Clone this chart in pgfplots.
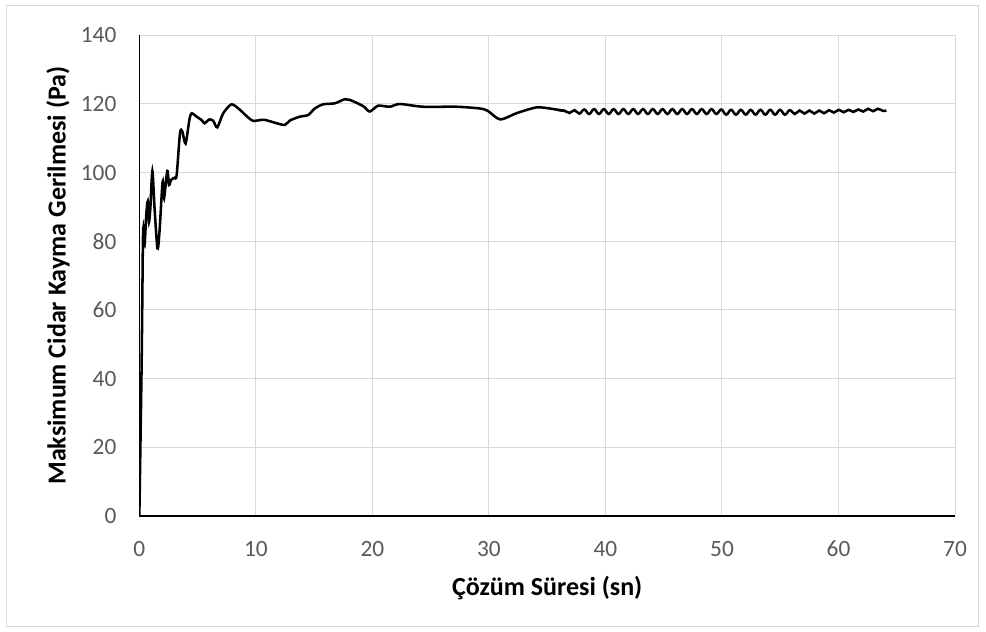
\documentclass[border=0pt]{standalone}
\usepackage{pgfplots}
\pgfplotsset{compat=1.18}
\usepackage{fontspec}
\setmainfont{Carlito}
\definecolor{gridgray}{HTML}{D9D9D9}
\definecolor{ticktext}{HTML}{595959}
\begin{document}
\begin{tikzpicture}
\useasboundingbox (-104.5pt,-87pt) rectangle (635pt,387pt);
\draw[gridgray, line width=0.75pt] (-99.5pt,-82.5pt) rectangle (629.5pt,382.5pt);
\begin{axis}[
  at={(0,0)}, anchor=south west,
  scale only axis, width=611.8pt, height=360.5pt,
  xmin=0, xmax=70, ymin=0, ymax=140,
  xtick={0,10,...,70}, ytick={0,20,...,140},
  axis lines=left, axis line style={-, line width=1.1pt, black},
  major tick length=0pt,
  grid=major, grid style={gridgray, line width=0.75pt},
  /pgf/number format/assume math mode=true,
  tick label style={font=\fontsize{17.5}{20}\selectfont, text=ticktext},
  xticklabel style={anchor=center, yshift=-24.75pt},
  yticklabel style={anchor=east, inner sep=0pt, xshift=-17pt},
  xlabel={Çözüm Süresi (sn)},
  ylabel={Maksimum Cidar Kayma Gerilmesi (Pa)},
  label style={font=\fontsize{19.5}{22}\selectfont\bfseries},
  xlabel style={at={(axis description cs:0.5,0)}, anchor=center, yshift=-54pt},
  ylabel style={at={(axis description cs:0,0.5)}, anchor=center, yshift=61pt},
]
\addplot[black, line width=1.9pt, smooth, tension=0.45] coordinates {
(0,0) (0.2,45) (0.3,78) (0.35,84) (0.45,79) (0.6,88) (0.72,91.6) (0.83,85.7) (0.95,90) (1.12,100.5) (1.3,90) (1.55,78) (1.72,82.3) (2.0,97.4) (2.12,92.5) (2.4,100.5) (2.55,96.4) (2.72,97.9) (3.0,98.5) (3.2,99.2) (3.49,111.5) (3.69,112) (3.97,108.5) (4.3,115.5) (4.49,117.3) (4.92,116.3) (5.35,115.3) (5.6,114.4) (6.0,115.5) (6.34,115.1) (6.69,113.2) (7.2,117.3) (7.92,119.9) (8.63,118.3) (9.2,116.5) (9.77,115.1) (10.7,115.4) (11.78,114.4) (12.49,113.9) (12.92,115.2) (13.77,116.3) (14.49,116.8) (15.06,118.7) (15.77,119.9) (16.77,120.2) (17.63,121.4) (18.06,121.2) (19.2,119.4) (19.77,117.8) (20.49,119.5) (21.49,119.2) (22.35,120) (24.35,119.2) (27.2,119.2) (29.2,118.7) (29.9,118) (30.97,115.5) (32.35,117.3) (34.06,119.0) (35.2,118.7) (35.9,118.3) (36.50,118.0)
};
\addplot[black, line width=1.9pt, smooth, tension=0.7] coordinates {
(35.9,118.3) (36.50,118.0) (36.92,117.4) (37.34,118.2) (37.76,117.2) (38.18,118.4) (38.60,117.1) (39.02,118.5) (39.44,117.1) (39.86,118.5) (40.28,117.1) (40.70,118.5) (41.12,117.1) (41.54,118.5) (41.96,117.1) (42.38,118.5) (42.80,117.1) (43.22,118.5) (43.64,117.1) (44.06,118.5) (44.48,117.1) (44.90,118.5) (45.32,117.1) (45.74,118.5) (46.16,117.1) (46.58,118.5) (47.00,117.1) (47.42,118.5) (47.84,117.1) (48.26,118.5) (48.68,117.1) (49.10,118.5) (49.52,117.1) (49.94,118.4) (50.36,116.9) (50.78,118.3) (51.20,116.9) (51.62,118.3) (52.04,116.9) (52.46,118.3) (52.88,116.9) (53.30,118.3) (53.72,116.9) (54.14,118.3) (54.56,116.9) (54.98,118.3) (55.40,116.9) (55.82,118.2) (56.24,117.1) (56.66,118.1) (57.08,117.2) (57.50,118.1) (57.92,117.2) (58.34,118.1) (58.76,117.3) (59.18,118.2) (59.60,117.5) (60.02,118.3) (60.44,117.6) (60.86,118.3) (61.28,117.7) (61.70,118.4) (62.12,117.8) (62.54,118.6) (62.96,117.9) (63.38,118.6) (63.80,118.0) (64.1,118.1)
};
\end{axis}
\end{tikzpicture}
\end{document}
